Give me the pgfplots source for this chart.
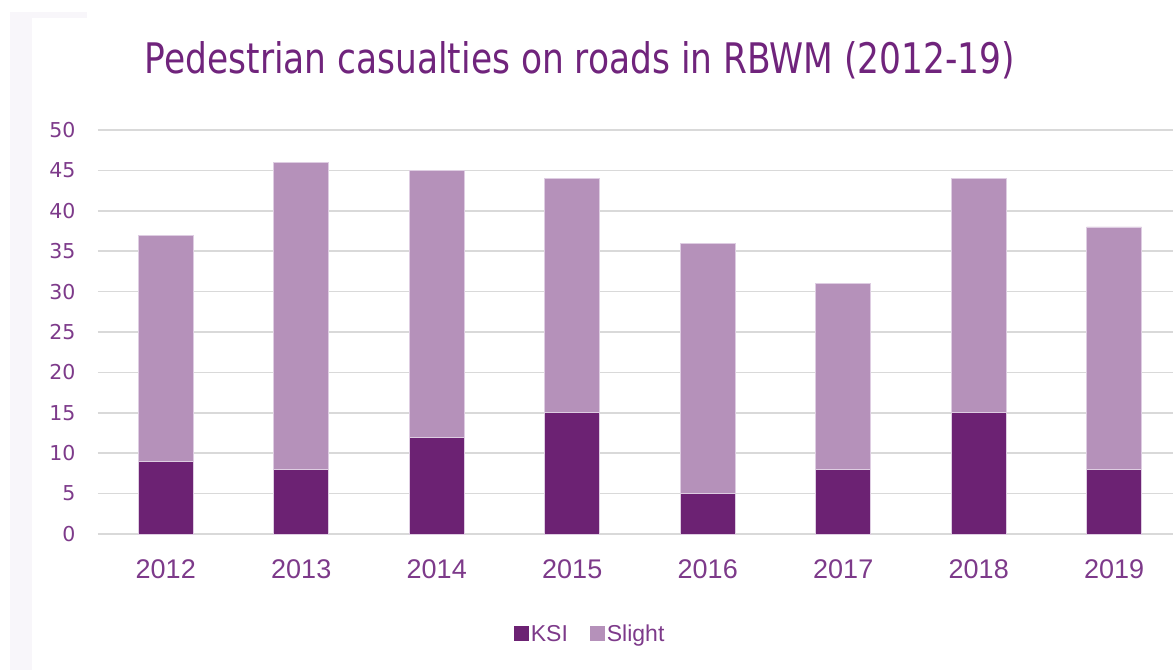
\documentclass[border=0pt]{standalone}
\usepackage{pgfplots}
\pgfplotsset{compat=1.18}
\usepackage{fontspec}
\setmainfont{Liberation Sans}
\newfontfamily\titlefont{DejaVu Sans Condensed}
\newfontfamily\tickfont{DejaVu Sans}
\definecolor{ksi}{RGB}{108,34,115}
\definecolor{slight}{RGB}{181,145,186}
\definecolor{titlec}{RGB}{112,36,124}
\definecolor{tickc}{RGB}{125,58,138}
\definecolor{gridc}{RGB}{217,217,217}
\definecolor{edgec}{RGB}{222,205,226}
\definecolor{panel}{RGB}{248,246,250}
\begin{document}
\begin{tikzpicture}
\useasboundingbox (0pt,0pt) rectangle (1173pt,670pt);
\fill[panel] (10pt,0pt) rectangle (32pt,658pt);
\fill[panel] (10pt,652pt) rectangle (87pt,658pt);
\node[anchor=base, text=titlec, inner sep=0pt] at (580pt,596pt)
  {\scalebox{1}[1.1]{\resizebox{870pt}{!}{\titlefont Pedestrian casualties on roads in RBWM (2012-19)}}};
\begin{axis}[
  at={(98pt,136pt)}, anchor=south west,
  scale only axis, width=1084pt, height=404pt,
  ybar stacked, bar width=55pt,
  xmin=-0.5, xmax=7.5, ymin=0, ymax=50,
  ytick={0,5,...,50},
  xtick={0,...,7},
  xticklabels={2012,2013,2014,2015,2016,2017,2018,2019},
  axis line style={draw=none},
  major tick length=0pt,
  ymajorgrids, grid style={gridc, line width=1.6pt},
  /pgf/number format/assume math mode=true,
  yticklabel style={font=\tickfont\fontsize{20.5}{24}\selectfont, text=tickc, xshift=-19pt},
  xticklabel style={font=\fontsize{27}{31}\selectfont, text=tickc, yshift=-22pt},
  legend style={at={(0.454,-0.2475)}, anchor=center, draw=none, fill=none,
    legend columns=2, font=\fontsize{23}{27}\selectfont, text=tickc,
    /tikz/every even column/.append style={column sep=20pt}},
  legend image code/.code={\fill[#1,draw=none] (0pt,-7pt) rectangle (15pt,8pt);},
  clip=false,
]
\addplot+[fill=ksi, draw=edgec, line width=0.6pt] coordinates {(0,9) (1,8) (2,12) (3,15) (4,5) (5,8) (6,15) (7,8)};
\addplot+[fill=slight, draw=edgec, line width=0.6pt] coordinates {(0,28) (1,38) (2,33) (3,29) (4,31) (5,23) (6,29) (7,30)};
\legend{KSI,Slight}
\end{axis}
\end{tikzpicture}
\end{document}
